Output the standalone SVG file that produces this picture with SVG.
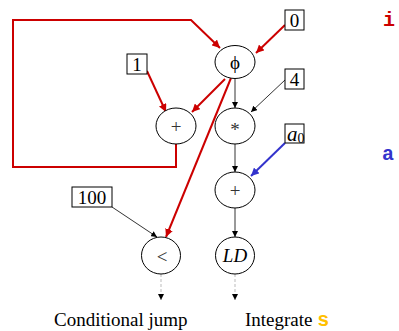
<svg xmlns="http://www.w3.org/2000/svg" width="399" height="331" viewBox="0 0 399 331">
  <style>
    .node ellipse { fill: #ffffff; stroke: #000000; stroke-width: 1; }
    .const rect { fill: #ffffff; stroke: #000000; stroke-width: 1; }
    text { font-family: "Liberation Serif", "Times New Roman", serif; font-size: 19px; fill: #000000; }
    .op { fill: #333333; text-anchor: middle; }
    .dark { fill: #000000; }
    .num { text-anchor: middle; }
    .it { font-style: italic; }
    .code { font-family: "Liberation Mono", "Courier New", monospace; font-weight: bold; font-size: 20px; }
    .cred { fill: #cc0000; }
    .cblue { fill: #3333cc; }
    .cgold { fill: #ffc000; }
    .edge { fill: none; stroke: #000000; stroke-width: 0.8; }
    .red { fill: none; stroke: #cc0000; stroke-width: 2; }
    .blue { fill: none; stroke: #3333cc; stroke-width: 2; }
    .dash { fill: none; stroke: #aaaaaa; stroke-width: 0.8; stroke-dasharray: 3 2; }
  </style>
  <defs>
    <marker id="ah" viewBox="0 0 10 10" refX="10" refY="5" markerWidth="6" markerHeight="6" markerUnits="userSpaceOnUse" orient="auto">
      <path d="M0,0 L10,5 L0,10 z" fill="#000000"/>
    </marker>
    <marker id="ahRed" viewBox="0 0 10 10" refX="10" refY="5" markerWidth="8" markerHeight="8" markerUnits="userSpaceOnUse" orient="auto">
      <path d="M0,0 L10,5 L0,10 z" fill="#cc0000"/>
    </marker>
    <marker id="ahBlue" viewBox="0 0 10 10" refX="10" refY="5" markerWidth="8" markerHeight="8" markerUnits="userSpaceOnUse" orient="auto">
      <path d="M0,0 L10,5 L0,10 z" fill="#3333cc"/>
    </marker>
  </defs>

  <!-- connectors -->
  <g id="connectors">
    <!-- loop-carried induction update back into phi -->
    <path class="red" d="M176,144 L176,167 L13,167 L13,20 L191,20 L220,48" marker-end="url(#ahRed)"/>
    <line class="red" x1="285" y1="25" x2="256" y2="53" marker-end="url(#ahRed)"/>
    <line class="red" x1="147" y1="71" x2="166" y2="112" marker-end="url(#ahRed)"/>
    <line class="red" x1="225" y1="79" x2="192" y2="112" marker-end="url(#ahRed)"/>
    <line class="red" x1="231" y1="78" x2="166" y2="237" marker-end="url(#ahRed)"/>
    <line class="edge" x1="235" y1="78" x2="235" y2="108" marker-end="url(#ah)"/>
    <line class="edge" x1="285" y1="80" x2="251" y2="112" marker-end="url(#ah)"/>
    <line class="edge" x1="235" y1="144" x2="235" y2="172" marker-end="url(#ah)"/>
    <line class="blue" x1="285" y1="143" x2="251" y2="176" marker-end="url(#ahBlue)"/>
    <line class="edge" x1="235" y1="208" x2="235" y2="237" marker-end="url(#ah)"/>
    <line class="edge" x1="112" y1="207" x2="157" y2="237" marker-end="url(#ah)"/>
    <line class="dash" x1="161" y1="274" x2="161" y2="300" marker-end="url(#ah)"/>
    <line class="dash" x1="235" y1="274" x2="235" y2="300" marker-end="url(#ah)"/>
  </g>

  <!-- constants -->
  <g id="c0" class="const"><rect x="285" y="10" width="19" height="20"/><text class="num" x="294.5" y="26.5">0</text></g>
  <g id="c1" class="const"><rect x="127" y="54" width="20" height="20"/><text class="num" x="137" y="70.5">1</text></g>
  <g id="c4" class="const"><rect x="285" y="69" width="19" height="20"/><text class="num" x="294.5" y="85.5">4</text></g>
  <g id="ca0" class="const"><rect x="285" y="124" width="19" height="19"/><text x="287" y="141"><tspan class="it" font-size="21">a</tspan><tspan font-size="14" dy="2">0</tspan></text></g>
  <g id="c100" class="const"><rect x="72" y="187" width="40" height="20"/><text class="num" x="92" y="203.5">100</text></g>

  <!-- operation nodes -->
  <g id="phi" class="node"><ellipse cx="235" cy="62" rx="20" ry="16.5"/><text class="op dark" x="235" y="69" font-size="22">ϕ</text></g>
  <g id="add1" class="node"><ellipse cx="176" cy="126" rx="20" ry="18"/><text class="op" x="176" y="132.5">+</text></g>
  <g id="mul" class="node"><ellipse cx="235" cy="126" rx="20" ry="18"/><text class="op" x="235" y="136">*</text></g>
  <g id="add2" class="node"><ellipse cx="235" cy="190" rx="20" ry="18"/><text class="op" x="235" y="196.5">+</text></g>
  <g id="lt" class="node"><ellipse cx="161" cy="255.5" rx="19.5" ry="18.5"/><text class="op" x="162" y="262.5" font-size="21">&lt;</text></g>
  <g id="ld" class="node"><ellipse cx="235" cy="255.5" rx="19.5" ry="18.5"/><text class="op dark it" x="235" y="261.5">LD</text></g>

  <!-- side labels -->
  <text class="code cred" x="383" y="26">i</text>
  <text class="code cblue" x="382" y="160">a</text>
  <text x="54" y="326">Conditional jump</text>
  <text x="245" y="326">Integrate <tspan class="code cgold">s</tspan></text>
</svg>
